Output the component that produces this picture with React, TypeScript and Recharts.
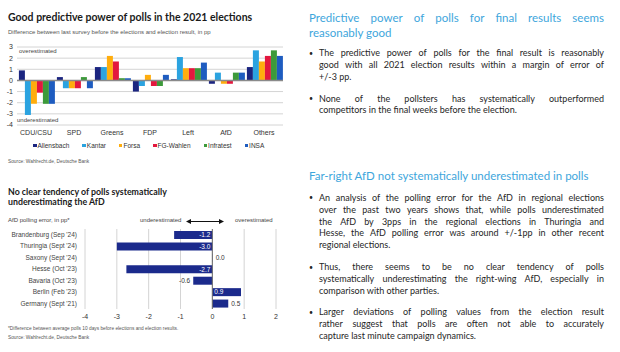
import { BarChart, Bar, XAxis, YAxis, CartesianGrid, ReferenceLine, LabelList } from 'recharts';

// 2021 federal election: poll minus result, pp
const PARTIES = ['CDU/CSU', 'SPD', 'Greens', 'FDP', 'Left', 'AfD', 'Others'];
const ALLENSBACH = [0.9, 0.3, 1.2, -1.0, 0.1, -0.3, 1.2];
const KANTAR = [-3.1, -0.7, 1.2, -0.5, 2.1, 0.7, 2.7];
const FORSA = [-2.1, -0.7, 2.2, 0.5, 1.1, -0.3, 1.7];
const FG_WAHLEN = [-1.1, -0.7, 1.7, -0.5, 1.1, -0.3, 2.2];
const INFRATEST = [-2.1, 0.3, 0.2, -0.5, 1.1, 0.7, 2.7];
const INSA = [-2.1, -0.7, 0.2, 0.5, 1.6, 0.7, 2.2];
const TOP_TICKS = [-4, -3, -2, -1, 0, 1, 2, 3];

// AfD polling error in regional elections
const ELECTIONS = [
  "Brandenburg (Sep '24)",
  "Thuringia (Sept '24)",
  "Saxony (Sept '24)",
  "Hesse (Oct '23)",
  "Bavaria (Oct '23)",
  "Berlin (Feb '23)",
  "Germany (Sept '21)",
];
const AFD_ERROR = [-1.2, -3.0, 0.0, -2.7, -0.6, 0.9, 0.5];
const AFD_TICKS = [-4, -3, -2, -1, 0, 1, 2];

const SERIES = [
  { key: 'Allensbach', values: ALLENSBACH, color: '#1b2580' },
  { key: 'Kantar', values: KANTAR, color: '#2ba3e0' },
  { key: 'Forsa', values: FORSA, color: '#ffad0d' },
  { key: 'FG-Wahlen', values: FG_WAHLEN, color: '#e3173e' },
  { key: 'Infratest', values: INFRATEST, color: '#3d9a3a' },
  { key: 'INSA', values: INSA, color: '#1e5cc0' },
];

const pollData = PARTIES.map((party, i) => {
  const row: Record<string, string | number> = { party };
  SERIES.forEach((s) => {
    row[s.key] = s.values[i];
  });
  return row;
});

const afdData = ELECTIONS.map((name, i) => ({ name, value: AFD_ERROR[i] }));

const CHART_FONT = '"Liberation Sans", Arial, sans-serif';
const BODY_FONT = 'Lato, "Noto Sans", sans-serif';
const BLUE_TITLE = '#3ea6dc';
const NAVY = '#1b2a8c';

// long bars carry their value inside, short ones next to the bar end
const insideFmt = (v: any) => (Math.abs(Number(v)) >= 0.9 ? Number(v).toFixed(1) : '');
const outsideFmt = (v: any) => (Math.abs(Number(v)) < 0.9 ? Number(v).toFixed(1) : '');

function RegionTick(props: any) {
  const { x, y, payload } = props;
  return (
    <text x={x} y={y} dy="0.36em" textAnchor="end" fontSize={6.5} fill="#444" fontFamily={CHART_FONT}>
      {payload.value}
    </text>
  );
}

function JustLine({ text, last }: { text: string; last?: boolean }) {
  if (last) return <div style={{ whiteSpace: 'nowrap' }}>{text}</div>;
  const words = text.split(' ');
  return (
    <div style={{ display: 'flex', justifyContent: 'space-between', whiteSpace: 'nowrap' }}>
      {words.map((w, i) => (
        <span key={i}>{w}</span>
      ))}
    </div>
  );
}

function Bullet({ top, lines, lh }: { top: number; lines: string[]; lh: number }) {
  return (
    <div
      style={{
        position: 'absolute',
        left: 309,
        top,
        width: 295,
        fontSize: 9,
        lineHeight: `${lh}px`,
        color: '#262626',
      }}
    >
      <span style={{ position: 'absolute', left: 0, top: 0, fontSize: 7 }}>•</span>
      <div style={{ marginLeft: 10 }}>
        {lines.map((l, i) => (
          <JustLine key={i} text={l} last={i === lines.length - 1} />
        ))}
      </div>
    </div>
  );
}

function BlueTitle({ top, lines }: { top: number; lines: string[] }) {
  return (
    <div
      style={{
        position: 'absolute',
        left: 309,
        top,
        width: 295,
        fontSize: 11.5,
        lineHeight: '15px',
        color: BLUE_TITLE,
      }}
    >
      {lines.map((l, i) => (
        <JustLine key={i} text={l} last={i === lines.length - 1} />
      ))}
    </div>
  );
}

export default function App() {
  return (
    <div
      style={{
        position: 'absolute',
        left: 0,
        top: 0,
        width: 620,
        height: 352,
        background: '#fff',
        overflow: 'hidden',
        fontFamily: BODY_FONT,
      }}
    >
      {/* top-left chart */}
      <div style={{ position: 'absolute', left: 8, top: 11, fontSize: 10.5, fontWeight: 700, color: '#1a1a1a', whiteSpace: 'nowrap' }}>
        Good predictive power of polls in the 2021 elections
      </div>
      <div style={{ position: 'absolute', left: 8, top: 29, fontSize: 6, fontFamily: CHART_FONT, color: '#555', whiteSpace: 'nowrap' }}>
        Difference between last survey before the elections and election result, in pp
      </div>
      <div style={{ position: 'absolute', left: 0, top: 40 }}>
        <BarChart
          width={290}
          height={100}
          data={pollData}
          margin={{ top: 7, right: 7, bottom: 3, left: 0 }}
          barCategoryGap="5%"
          barGap={0}
        >
          <CartesianGrid vertical={false} stroke="#d4d4d4" strokeWidth={1} />
          <XAxis
            dataKey="party"
            axisLine={false}
            tickLine={false}
            tickSize={3}
            tickMargin={2}
            height={12}
            interval={0}
            tick={{ fontSize: 7, fill: '#333', fontFamily: CHART_FONT }}
          />
          <YAxis
            type="number"
            domain={[-4, 3]}
            ticks={TOP_TICKS}
            width={17}
            axisLine={false}
            tickLine={false}
            tickSize={2}
            tickMargin={2}
            interval={0}
            tick={{ fontSize: 7, fill: '#333', fontFamily: CHART_FONT }}
          />
          <ReferenceLine y={0} stroke="#8a8a8a" strokeWidth={1.5} />
          {SERIES.map((s) => (
            <Bar key={s.key} dataKey={s.key} fill={s.color} isAnimationActive={false} />
          ))}
        </BarChart>
      </div>
      <div style={{ position: 'absolute', left: 19, top: 48, fontSize: 6, fontFamily: CHART_FONT, color: '#444' }}>overestimated</div>
      <div style={{ position: 'absolute', left: 17, top: 117, fontSize: 6, fontFamily: CHART_FONT, color: '#444' }}>underestimated</div>

      {/* legend */}
      <div
        style={{
          position: 'absolute',
          left: 33,
          top: 142,
          display: 'flex',
          gap: 13,
          fontSize: 6.5,
          fontFamily: CHART_FONT,
          color: '#333',
          whiteSpace: 'nowrap',
        }}
      >
        {SERIES.map((s) => (
          <div key={s.key} style={{ display: 'flex', alignItems: 'center', gap: 1 }}>
            <span style={{ display: 'inline-block', width: 3.5, height: 3.5, background: s.color }} />
            <span>{s.key}</span>
          </div>
        ))}
      </div>
      <div style={{ position: 'absolute', left: 8, top: 159, fontSize: 4.8, fontFamily: CHART_FONT, color: '#555' }}>
        Source: Wahlrecht.de, Deutsche Bank
      </div>

      {/* bottom-left chart */}
      <div style={{ position: 'absolute', left: 8, top: 187, fontSize: 8.8, fontWeight: 700, lineHeight: '10px', color: '#1a1a1a', whiteSpace: 'nowrap' }}>
        No clear tendency of polls systematically
        <br />
        underestimating the AfD
      </div>
      <div style={{ position: 'absolute', left: 8, top: 217, fontSize: 6, fontFamily: CHART_FONT, color: '#444' }}>
        AfD polling error, in pp*
      </div>
      <div style={{ position: 'absolute', left: 140, top: 217, fontSize: 6, fontFamily: CHART_FONT, color: '#444', whiteSpace: 'nowrap' }}>
        underestimated
      </div>
      <svg style={{ position: 'absolute', left: 186, top: 218 }} width={38} height={7}>
        <line x1={3} y1={3.5} x2={35} y2={3.5} stroke="#111" strokeWidth={1} />
        <polygon points="0,3.5 5,1 5,6" fill="#111" />
        <polygon points="38,3.5 33,1 33,6" fill="#111" />
      </svg>
      <div style={{ position: 'absolute', left: 235, top: 217, fontSize: 6, fontFamily: CHART_FONT, color: '#444', whiteSpace: 'nowrap' }}>
        overestimated
      </div>
      <div style={{ position: 'absolute', left: 0, top: 222 }}>
        <BarChart
          width={290}
          height={100}
          data={afdData}
          layout="vertical"
          margin={{ top: 7, right: 14, bottom: 0, left: 0 }}
          barSize={8}
        >
          <CartesianGrid horizontal={false} stroke="#d4d4d4" strokeWidth={1} />
          <XAxis
            type="number"
            domain={[-4, 2]}
            ticks={AFD_TICKS}
            interval={0}
            axisLine={false}
            tickLine={false}
            tickSize={3}
            tickMargin={2}
            height={13}
            tick={{ fontSize: 7, fill: '#333', fontFamily: CHART_FONT }}
          />
          <YAxis
            type="category"
            dataKey="name"
            width={85}
            axisLine={false}
            tickLine={false}
            tickSize={6}
            tickMargin={2}
            interval={0}
            tick={<RegionTick />}
          />
          <ReferenceLine x={0} stroke="#6a6a6a" strokeWidth={1} />
          <Bar dataKey="value" fill={NAVY} minPointSize={0.3} isAnimationActive={false}>
            <LabelList
              dataKey="value"
              position="insideLeft"
              offset={2}
              formatter={insideFmt}
              fill="#ffffff"
              fontSize={6.5}
              fontFamily={CHART_FONT}
            />
            <LabelList
              dataKey="value"
              position="right"
              offset={3}
              formatter={outsideFmt}
              fill="#333333"
              fontSize={6.5}
              fontFamily={CHART_FONT}
            />
          </Bar>
        </BarChart>
      </div>
      <div style={{ position: 'absolute', left: 8, top: 326, fontSize: 4.8, fontFamily: CHART_FONT, color: '#555', whiteSpace: 'nowrap' }}>
        *Difference between average polls 10 days before elections and election results.
      </div>
      <div style={{ position: 'absolute', left: 8, top: 335, fontSize: 4.8, fontFamily: CHART_FONT, color: '#555' }}>
        Source: Wahlrecht.de, Deutsche Bank
      </div>

      {/* right column text */}
      <BlueTitle top={9.5} lines={['Predictive power of polls for final results seems', 'reasonably good']} />
      <Bullet
        top={47}
        lh={12}
        lines={[
          'The predictive power of polls for the final result is reasonably',
          'good with all 2021 election results within a margin of error of',
          '+/-3 pp.',
        ]}
      />
      <Bullet
        top={93}
        lh={11}
        lines={[
          'None of the pollsters has systematically outperformed',
          'competitors in the final weeks before the election.',
        ]}
      />
      <BlueTitle top={167.5} lines={['Far-right AfD not systematically underestimated in polls']} />
      <Bullet
        top={192}
        lh={11.75}
        lines={[
          'An analysis of the polling error for the AfD in regional elections',
          'over the past two years shows that, while polls underestimated',
          'the AfD by 3pps in the regional elections in Thuringia and',
          'Hesse, the AfD polling error was around +/-1pp in other recent',
          'regional elections.',
        ]}
      />
      <Bullet
        top={261}
        lh={12}
        lines={[
          'Thus, there seems to be no clear tendency of polls',
          'systematically underestimating the right-wing AfD, especially in',
          'comparison with other parties.',
        ]}
      />
      <Bullet
        top={306}
        lh={12}
        lines={[
          'Larger deviations of polling values from the election result',
          'rather suggest that polls are often not able to accurately',
          'capture last minute campaign dynamics.',
        ]}
      />
    </div>
  );
}
